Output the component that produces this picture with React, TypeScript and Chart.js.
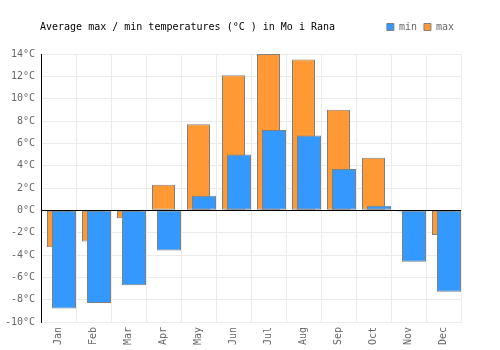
import React, { useEffect, useRef } from "react";
import { Chart, registerables } from "chart.js";

Chart.register(...registerables);

const titleText = "Average max / min temperatures (°C ) in Mo i Rana";
const months = ["Jan", "Feb", "Mar", "Apr", "May", "Jun", "Jul", "Aug", "Sep", "Oct", "Nov", "Dec"];
const minTemps = [-8.8, -8.3, -6.7, -3.6, 1.3, 5.0, 7.2, 6.7, 3.7, 0.4, -4.6, -7.3];
const maxTemps = [-3.3, -2.8, -0.7, 2.3, 7.7, 12.1, 14.0, 13.5, 9.0, 4.7, -0.1, -2.2];
const yMin = -10;
const yMax = 14;
const yStep = 2;

const FONT = "'DejaVu Sans Mono', monospace";
// the "min" bars sit a little to the right of the month centre
const MIN_BAR_SHIFT = 0.157;

export default function App() {
  const canvasRef = useRef<HTMLCanvasElement | null>(null);

  useEffect(() => {
    document.body.style.margin = "0";
    const canvas = canvasRef.current;
    if (!canvas) return;

    const zeroLine = {
      id: "zeroLine",
      afterDatasetsDraw(chart: any) {
        const { ctx, chartArea } = chart;
        const y = Math.round(chart.scales.y.getPixelForValue(0)) + 0.5;
        ctx.save();
        ctx.strokeStyle = "#000";
        ctx.lineWidth = 1;
        ctx.beginPath();
        ctx.moveTo(chartArea.left, y);
        ctx.lineTo(chartArea.right, y);
        ctx.stroke();
        ctx.restore();
      },
    };

    const sideTitle = {
      id: "sideTitle",
      afterDraw(chart: any) {
        const { ctx, chartArea, legend } = chart;
        const box = legend && legend.legendHitBoxes && legend.legendHitBoxes[0];
        const y = box ? box.top + box.height / 2 : 27;
        ctx.save();
        ctx.font = "10px " + FONT;
        ctx.fillStyle = "#000";
        ctx.textAlign = "left";
        ctx.textBaseline = "middle";
        ctx.fillText(titleText, chartArea.left - 1, y);
        ctx.restore();
      },
    };

    const minPoints = minTemps.map((v, i) => ({ x: i, y: v }));

    const chart = new Chart(canvas, {
      type: "bar",
      data: {
        labels: months,
        datasets: [
          {
            label: "min",
            data: minPoints,
            xAxisID: "x2",
            order: 0,
            grouped: false,
            backgroundColor: "#3399ff",
            borderColor: "#808080",
            borderWidth: 1,
            borderSkipped: false,
            categoryPercentage: 1,
            barPercentage: 0.686,
          },
          {
            label: "max",
            data: maxTemps,
            xAxisID: "x",
            order: 1,
            grouped: false,
            backgroundColor: "#ff9933",
            borderColor: "#808080",
            borderWidth: 1,
            borderSkipped: false,
            categoryPercentage: 1,
            barPercentage: 0.657,
          },
        ],
      } as any,
      options: {
        animation: false,
        responsive: true,
        maintainAspectRatio: false,
        layout: { padding: { top: 15, right: 39, left: 5, bottom: 4 } },
        plugins: {
          title: { display: false },
          subtitle: {
            display: true,
            text: " ",
            position: "top",
            weight: 500,
            font: { size: 10, lineHeight: 1 },
            padding: { top: 1, bottom: 1 },
          },
          tooltip: { enabled: false },
          legend: {
            display: true,
            position: "top",
            align: "end",
            labels: {
              boxWidth: 7,
              boxHeight: 7,
              padding: 7,
              color: "#666",
              font: { family: FONT, size: 10 },
            },
          },
        },
        scales: {
          x: {
            type: "category",
            offset: true,
            grid: { color: "#ebebeb", drawTicks: false, offset: true },
            border: { display: true, color: "#ebebeb" },
            afterFit: (s: any) => {
              s.height = 24;
            },
            ticks: {
              color: "#666",
              font: { family: FONT, size: 10 },
              minRotation: 90,
              maxRotation: 90,
              padding: 5,
              autoSkip: false,
            },
          },
          x2: {
            type: "linear",
            display: false,
            offset: false,
            min: -0.5 - MIN_BAR_SHIFT,
            max: months.length - 0.5 - MIN_BAR_SHIFT,
            grid: { display: false },
          },
          y: {
            min: yMin,
            max: yMax,
            grid: { color: "#ebebeb", drawTicks: false },
            border: { display: true, color: "#000", width: 1 },
            afterFit: (s: any) => {
              s.width = 36;
            },
            ticks: {
              stepSize: yStep,
              color: "#666",
              padding: 6,
              font: { family: FONT, size: 10 },
              callback: (v: any) => v + "°C",
            },
          },
        },
      } as any,
      plugins: [zeroLine, sideTitle],
    });

    return () => chart.destroy();
  }, []);

  return (
    <div style={{ width: 500, height: 350, position: "relative" }}>
      <canvas ref={canvasRef} />
    </div>
  );
}
